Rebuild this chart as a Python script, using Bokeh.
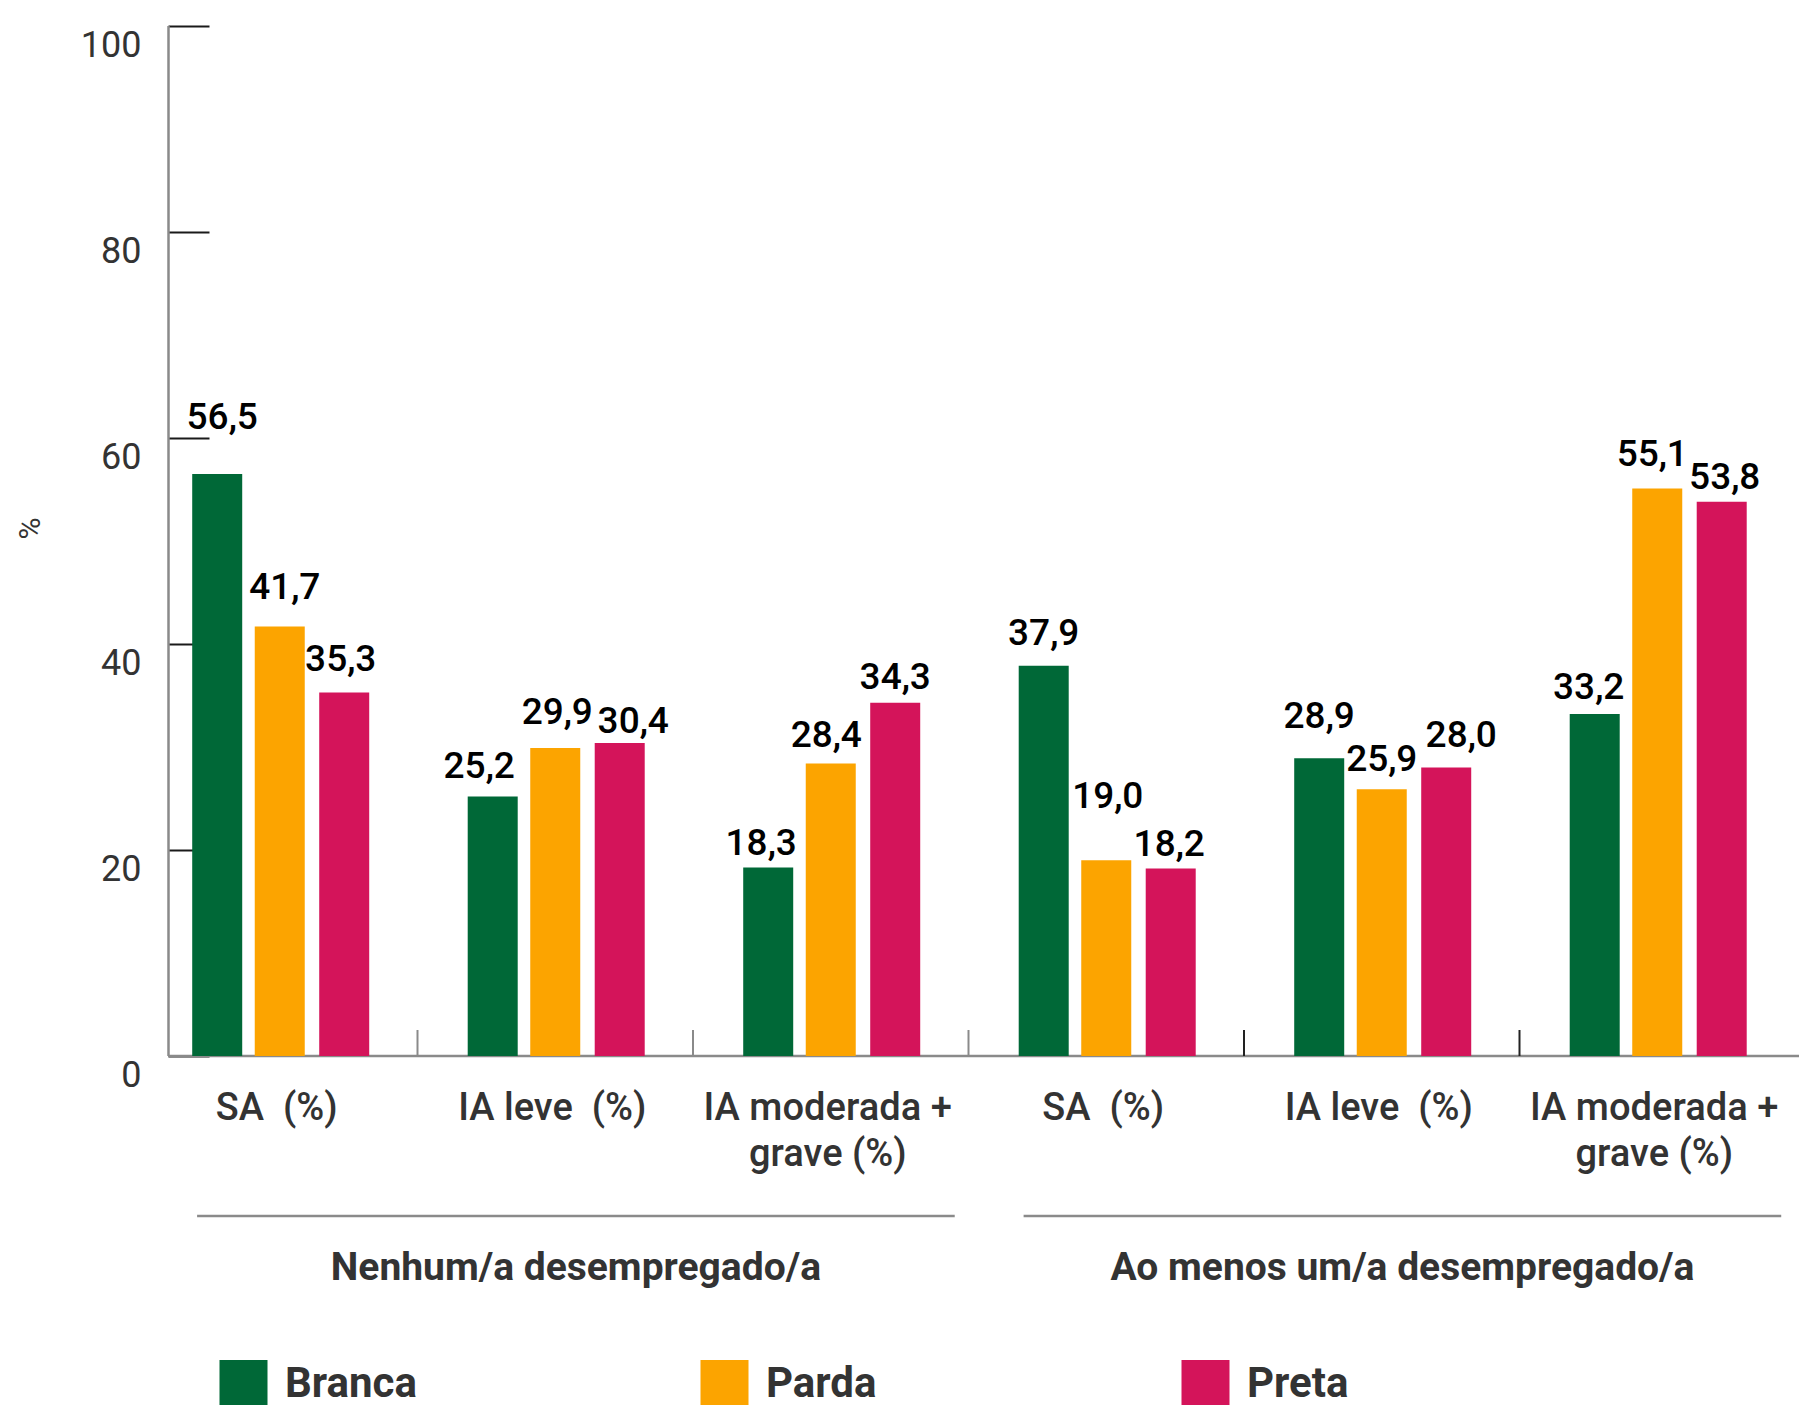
import math
from bokeh.plotting import figure
from bokeh.models import (ColumnDataSource, Legend, LegendItem, FixedTicker, Range1d)
from bokeh.core.properties import value
from bokeh.embed import file_html
from bokeh.resources import INLINE

# ---------------- data ----------------
categories = ["SA  (%)", "IA leve  (%)", "IA moderada +\ngrave (%)",
              "SA  (%)", "IA leve  (%)", "IA moderada +\ngrave (%)"]
groups = ["Nenhum/a desempregado/a", "Ao menos um/a desempregado/a"]
series = ["Branca", "Parda", "Preta"]
branca = [56.5, 25.2, 18.3, 37.9, 28.9, 33.2]
parda = [41.7, 29.9, 28.4, 19.0, 25.9, 55.1]
preta = [35.3, 30.4, 34.3, 18.2, 28.0, 53.8]
y_ticks = [0, 20, 40, 60, 80, 100]
y_title = "%"

# ---------------- style ----------------
colors = ["#006837", "#FCA400", "#D4145A"]
FONT = "Roboto"
FONT_MED = "Roboto Medium"
W, H = 1799, 1410
PX_X = 275.5          # pixels per category
PX_Y = 10.3           # pixels per percent
ZERO_SY = 1055.5      # canvas y of value 0
X0_SX = 141.5         # canvas x of category coordinate 0
BASE_CORR = 13        # alphabetic-baseline correction (px)

x_start = -X0_SX / PX_X
x_end = x_start + W / PX_X
y_end = ZERO_SY / PX_Y
y_start = -(H - ZERO_SY) / PX_Y

bar_offsets = [-0.227, 0.0, 0.234]
bar_width = 0.1815
# label nudges (pixels): horizontal shift and gap above bar top
label_dx = [[5, -13.5, -7, 0, 0, -6],
            [5, 2, -4.5, 1.5, 0, -5],
            [-3.5, 13.5, 0, -1.5, 15, 3]]
label_gap = [[45, 18, 13, 21, 30, 15],
             [27, 24, 16, 52, 18, 22],
             [21, 10, 14, 13, 21, 13]]


def px_to_y(px_below_zero):
    return -px_below_zero / PX_Y


def keep_spaces(s):
    return s.replace("  ", " \u00a0")


p = figure(width=W, height=H, output_backend="svg", toolbar_location=None,
           x_range=Range1d(x_start, x_end), y_range=Range1d(y_start, y_end),
           x_axis_type=None,
           min_border_left=0, min_border_right=0,
           min_border_top=0, min_border_bottom=0)
p.outline_line_color = None
p.ygrid.grid_line_color = None
p.background_fill_color = "white"

axis_x = (168 - X0_SX) / PX_X

# y axis (drawn at the data position of the vertical axis line, under the bars)
yax = p.yaxis[0]
yax.ticker = FixedTicker(ticks=y_ticks)
yax.fixed_location = axis_x
yax.axis_line_color = None
yax.major_tick_in = 41
yax.major_tick_out = 0
yax.minor_tick_in = 0
yax.minor_tick_out = 0
yax.major_tick_line_color = "#1a1a1a"
yax.major_tick_line_width = 2
yax.major_label_standoff = 0
yax.major_label_overrides = {t: "" for t in y_ticks}
yax.level = "underlay"

# tick labels, placed under each tick like the original
p.text(x=[axis_x] * len(y_ticks), y=y_ticks, text=[str(t) for t in y_ticks],
       x_offset=-27, y_offset=31 - BASE_CORR, text_align="right",
       text_baseline="alphabetic", text_font=value(FONT), text_font_size="36px",
       text_color="#333333")

# axis line from 0 to 100 and baseline from the axis to the right edge
p.segment(x0=[axis_x], y0=[y_ticks[0]], x1=[axis_x], y1=[y_ticks[-1]],
          line_color="#8a8a8a", line_width=2.5)
p.segment(x0=[axis_x], y0=[0], x1=[x_end], y1=[0],
          line_color="#8a8a8a", line_width=2.5)

# y title
p.text(x=[(29 - X0_SX) / PX_X], y=[(ZERO_SY - 528) / PX_Y], text=[y_title],
       angle=math.pi / 2, text_align="center", text_baseline="middle",
       text_font=value(FONT), text_font_size="30px", text_color="#333333")

# category separators
n = len(categories)
sep_x = list(range(1, n))
sep_colors = ["#8a8a8a", "#8a8a8a", "#8a8a8a", "#222222", "#222222"]
p.segment(x0=sep_x, y0=[0] * len(sep_x), x1=sep_x, y1=[26 / PX_Y] * len(sep_x),
          line_color=sep_colors, line_width=2)

# bars
renderers = []
for si, (name, vals) in enumerate(zip(series, [branca, parda, preta])):
    xs = [i + 0.5 + bar_offsets[si] for i in range(n)]
    src = ColumnDataSource(dict(
        x=xs, top=vals,
        label=[f"{v:.1f}".replace(".", ",") for v in vals],
        dx=label_dx[si], dy=[-g - BASE_CORR for g in label_gap[si]],
    ))
    r = p.vbar(x="x", top="top", width=bar_width, bottom=0, source=src,
               fill_color=colors[si], line_color=None)
    renderers.append(r)
    p.text(x="x", y="top", text="label", x_offset="dx", y_offset="dy", source=src,
           text_align="center", text_baseline="alphabetic",
           text_font=value(FONT_MED), text_font_size="37px", text_color="#000000")

# category labels (multi-line split)
cx, cy_off, ctext = [], [], []
for i, c in enumerate(categories):
    for li, line in enumerate(c.split("\n")):
        cx.append(i + 0.5)
        cy_off.append(65 + 46 * li - BASE_CORR - 1)
        ctext.append(keep_spaces(line))
p.text(x=cx, y=[0] * len(cx), text=ctext, x_offset=-3, y_offset=cy_off,
       text_align="center", text_baseline="alphabetic",
       text_font=value(FONT_MED), text_font_size="38px", text_color="#333333")

# group lines and labels
per_group = n // len(groups)
gx0 = [g * per_group + 0.2 for g in range(len(groups))]
gx1 = [(g + 1) * per_group - 0.05 for g in range(len(groups))]
p.segment(x0=gx0, y0=[px_to_y(160)] * len(groups), x1=gx1,
          y1=[px_to_y(160)] * len(groups), line_color="#8a8a8a", line_width=2.5)
p.text(x=[(a + b) / 2 for a, b in zip(gx0, gx1)], y=[0] * len(groups), text=groups,
       y_offset=224.5 - BASE_CORR - 1, text_align="center", text_baseline="alphabetic",
       text_font=value(FONT), text_font_size="39px", text_font_style="bold",
       text_color="#333333")

# legend
legend = Legend(items=[LegendItem(label=s, renderers=[r]) for s, r in zip(series, renderers)],
                orientation="horizontal", location=(213, 0),
                glyph_width=60, glyph_height=56, label_standoff=12, label_width=400,
                spacing=9, padding=0, margin=0, border_line_color=None,
                background_fill_alpha=0, label_text_font=FONT,
                label_text_font_size="42px", label_text_font_style="bold",
                label_text_color="#333333")
p.add_layout(legend)

open("out.html", "w").write(file_html(p, INLINE))
